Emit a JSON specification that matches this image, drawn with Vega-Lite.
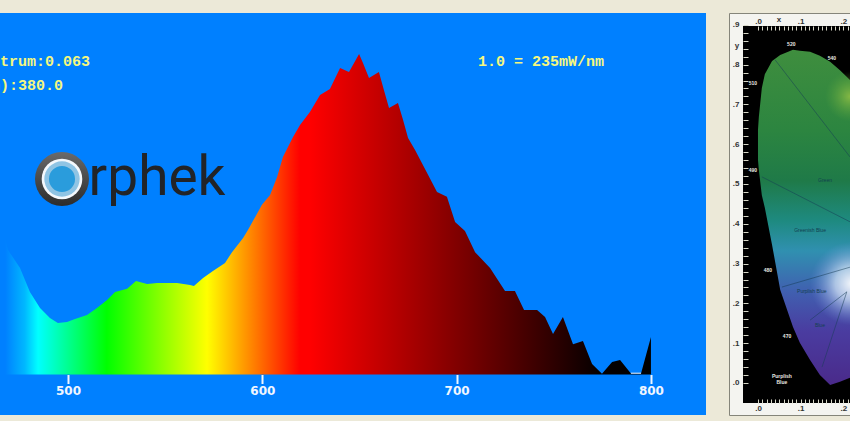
{
"$schema":"https://vega.github.io/schema/vega-lite/v6.json",
"background":"#ECE9D8",
"padding":{"left":0,"top":12,"right":0,"bottom":6},
"spacing":22,
"config":{"axis":{"title":null,"grid":false}},
"hconcat":[
{"width":706,"height":402,"view":{"fill":"#0080FF","stroke":null},
"encoding":{
"x":{"field":"nm","type":"quantitative","scale":{"domain":[465,828.33],"nice":false,"zero":false},
"axis":{"values":[500,600,700,800],"orient":"bottom","offset":-40.5,"domain":false,"tickColor":"#F0F6FF","tickWidth":2,"tickSize":9,"labelColor":"#F0F6FF","labelFont":"DejaVu Sans","labelFontWeight":"bold","labelFontSize":12,"labelPadding":2,"title":null,"format":"d"}},
"y":{"field":"v","type":"quantitative","scale":{"domain":[-0.1268,1.1315],"nice":false,"zero":false},"axis":null}
},
"layer":[
{"data":{"values":[
{"nm":465.0,"v":0.531},{"nm":466.5,"v":0.452},{"nm":469.1,"v":0.390},{"nm":475.3,"v":0.333},{"nm":480.4,"v":0.258},{"nm":485.6,"v":0.208},{"nm":490.7,"v":0.177},{"nm":494.8,"v":0.161},{"nm":499.5,"v":0.164},{"nm":503.6,"v":0.174},{"nm":509.8,"v":0.186},{"nm":514.9,"v":0.208},{"nm":520.1,"v":0.233},{"nm":524.2,"v":0.258},{"nm":530.4,"v":0.268},{"nm":535.0,"v":0.293},{"nm":540.7,"v":0.283},{"nm":545.8,"v":0.286},{"nm":556.1,"v":0.286},{"nm":562.8,"v":0.280},{"nm":564.8,"v":0.277},{"nm":569.5,"v":0.302},{"nm":574.6,"v":0.324},{"nm":580.8,"v":0.349},{"nm":584.4,"v":0.383},{"nm":590.1,"v":0.427},{"nm":592.6,"v":0.452},{"nm":599.8,"v":0.531},{"nm":604.0,"v":0.562},{"nm":607.6,"v":0.618},{"nm":610.6,"v":0.681},{"nm":615.8,"v":0.743},{"nm":619.4,"v":0.781},{"nm":624.5,"v":0.822},{"nm":629.7,"v":0.875},{"nm":634.8,"v":0.894},{"nm":640.0,"v":0.959},{"nm":644.6,"v":0.947},{"nm":649.8,"v":1.003},{"nm":651.8,"v":0.975},{"nm":654.9,"v":0.928},{"nm":660.0,"v":0.947},{"nm":662.6,"v":0.890},{"nm":665.2,"v":0.834},{"nm":669.8,"v":0.850},{"nm":672.4,"v":0.797},{"nm":675.0,"v":0.740},{"nm":678.6,"v":0.703},{"nm":684.8,"v":0.631},{"nm":689.9,"v":0.571},{"nm":695.0,"v":0.556},{"nm":699.2,"v":0.477},{"nm":704.3,"v":0.449},{"nm":709.5,"v":0.383},{"nm":717.2,"v":0.333},{"nm":724.9,"v":0.261},{"nm":730.0,"v":0.261},{"nm":734.7,"v":0.202},{"nm":741.4,"v":0.202},{"nm":745.5,"v":0.180},{"nm":749.6,"v":0.127},{"nm":754.7,"v":0.180},{"nm":759.9,"v":0.095},{"nm":765.0,"v":0.105},{"nm":769.7,"v":0.033},{"nm":774.8,"v":0.002},{"nm":780.0,"v":0.039},{"nm":784.1,"v":0.045},{"nm":789.7,"v":0.003},{"nm":794.9,"v":0.003},{"nm":800.0,"v":0.117}
]},
"mark":{"type":"area","color":{"gradient":"linear","x1":0,"y1":0,"x2":1,"y2":0,"stops":[
{"offset":0,"color":"#0080FF"},{"offset":0.008,"color":"#0080FF"},{"offset":0.038,"color":"#00B8FF"},{"offset":0.0585,"color":"#00FFFF"},{"offset":0.164,"color":"#00FF00"},{"offset":0.318,"color":"#FFFF00"},{"offset":0.461,"color":"#FF0000"},{"offset":0.476,"color":"#FF0000"},{"offset":0.922,"color":"#050000"},{"offset":1,"color":"#000000"}]}},
"encoding":{"y2":{"datum":0}}},
{"data":{"values":[{"nm":789.7,"nm2":794.9,"v":0.004}]},"mark":{"type":"rule","color":"#F0F6FF","strokeWidth":1},"encoding":{"x2":{"field":"nm2"}}},
{"data":{"values":[{"nm":496.9,"v":0.612}]},"mark":{"type":"point","shape":"circle","filled":true,"opacity":1,"size":2916,"color":{"gradient":"linear","x1":0.5,"y1":0,"x2":0.5,"y2":1,"stops":[{"offset":0,"color":"#6a6a6a"},{"offset":0.5,"color":"#4a4a4a"},{"offset":1,"color":"#2c2c2c"}]}}},
{"data":{"values":[{"nm":496.9,"v":0.612}]},"mark":{"type":"point","shape":"circle","filled":true,"opacity":1,"size":1650,"color":"#F4F8FC"}},
{"data":{"values":[{"nm":496.9,"v":0.612}]},"mark":{"type":"point","shape":"circle","filled":true,"opacity":1,"size":1250,"color":"#8FC4E4"}},
{"data":{"values":[{"nm":496.9,"v":0.612}]},"mark":{"type":"point","shape":"circle","filled":true,"opacity":1,"size":680,"color":"#2A9CDC"}},
{"data":{"values":[{"nm":510.6,"v":0.562,"t":"rphek"}]},"mark":{"type":"text","align":"left","baseline":"alphabetic","font":"Roboto","fontWeight":400,"fontSize":55,"color":"#222428"},"encoding":{"text":{"field":"t"}}},
{"data":{"values":[{"nm":511.3,"v":0.982,"t":"Spectrum:0.063"},{"nm":497.4,"v":0.907,"t":"(nm):380.0"}]},"mark":{"type":"text","clip":true,"align":"right","baseline":"middle","font":"Liberation Mono","fontWeight":"bold","fontSize":15,"color":"#F4F780"},"encoding":{"text":{"field":"t"}}},
{"data":{"values":[{"nm":711,"v":0.982,"t":"1.0 = 235mW/nm"}]},"mark":{"type":"text","align":"left","baseline":"middle","font":"Liberation Mono","fontWeight":"bold","fontSize":15,"color":"#F4F780"},"encoding":{"text":{"field":"t"}}}
]},
{"width":121,"height":402,"view":{"fill":"#F4F4F0","stroke":"#85857A"},
"encoding":{
"x":{"field":"cx","type":"quantitative","scale":{"domain":[-0.0679,0.2155],"nice":false,"zero":false},"title":null,"axis":null},
"y":{"field":"cy","type":"quantitative","scale":{"domain":[-0.0804,0.9296],"nice":false,"zero":false},"title":null,
"axis":{"orient":"left","offset":-14,"zindex":1,"values":[0,0.02,0.04,0.06,0.08,0.1,0.12,0.14,0.16,0.18,0.2,0.22,0.24,0.26,0.28,0.3,0.32,0.34,0.36,0.38,0.4,0.42,0.44,0.46,0.48,0.5,0.52,0.54,0.56,0.58,0.6,0.62,0.64,0.66,0.68,0.7,0.72,0.74,0.76,0.78,0.8,0.82,0.84,0.86,0.88,0.9],"labelExpr":"round(datum.value*100)%10==0?'.'+round(datum.value*10):''","domain":false,"tickColor":"#D8D8C8","tickSize":-5,"labelPadding":9,"labelColor":"#333333","labelFontSize":8,"labelFontWeight":"bold","labelFlush":false,"labelOverlap":false,"title":null}}
},
"layer":[
{"data":{"values":[{"cx":-0.0351,"cx2":0.2155,"cy":-0.0503,"cy2":0.897}]},"mark":{"type":"rect","color":"#000000"},"encoding":{"x":{"field":"cx","type":"quantitative","axis":{"orient":"bottom","offset":-12,"zindex":1,"values":[0,0.01,0.02,0.03,0.04,0.05,0.06,0.07,0.08,0.09,0.1,0.11,0.12,0.13,0.14,0.15,0.16,0.17,0.18,0.19,0.2,0.21],"labelExpr":"round(datum.value*100)%10==0?'.'+round(datum.value*10):''","domain":false,"tickColor":"#D8D8C8","tickSize":-4,"labelPadding":5,"labelColor":"#333333","labelFontSize":8,"labelFontWeight":"bold","labelFlush":false,"labelOverlap":false,"title":null}},"x2":{"field":"cx2"},"y2":{"field":"cy2"}}},
{"data":{"values":[{"cy":0},{"cy":0.1},{"cy":0.2},{"cy":0.3},{"cy":0.4},{"cy":0.5},{"cy":0.6},{"cy":0.7},{"cy":0.8}]},"mark":{"type":"rule","color":"#C9C9B0","strokeWidth":1},"encoding":{"x":{"datum":-0.0351,"axis":null},"x2":{"datum":0.2155}}},
{"data":{"values":[{"cx":0},{"cx":0.1},{"cx":0.2}]},"mark":{"type":"rule","color":"#C9C9B0","strokeWidth":1},"encoding":{"x":{"field":"cx","type":"quantitative","axis":{"orient":"top","offset":-13,"zindex":1,"values":[0,0.01,0.02,0.03,0.04,0.05,0.06,0.07,0.08,0.09,0.1,0.11,0.12,0.13,0.14,0.15,0.16,0.17,0.18,0.19,0.2,0.21],"labelExpr":"round(datum.value*100)%10==0?'.'+round(datum.value*10):''","domain":false,"tickColor":"#D8D8C8","tickSize":-4,"labelPadding":5,"labelColor":"#333333","labelFontSize":8,"labelFontWeight":"bold","labelFlush":false,"labelOverlap":false,"title":null}},"y":{"datum":-0.0503},"y2":{"datum":0.897}}},
{"data":{"values":[
{"cx":0,"cy":0.636,"cy2":0.560},{"cx":0.002,"cy":0.668,"cy2":0.535},{"cx":0.009,"cy":0.741,"cy2":0.472},{"cx":0.016,"cy":0.776,"cy2":0.440},{"cx":0.033,"cy":0.809,"cy2":0.347},{"cx":0.052,"cy":0.824,"cy2":0.234},{"cx":0.082,"cy":0.837,"cy2":0.141},{"cx":0.098,"cy":0.835,"cy2":0.101},{"cx":0.122,"cy":0.832,"cy2":0.058},{"cx":0.145,"cy":0.822,"cy2":0.020},{"cx":0.169,"cy":0.807,"cy2":-0.005},{"cx":0.192,"cy":0.786,"cy2":0.003},{"cx":0.2155,"cy":0.761,"cy2":0.013}
]},"mark":{"type":"area","color":{"gradient":"linear","x1":0,"y1":0,"x2":0,"y2":1,"stops":[{"offset":0,"color":"#3F8E3E"},{"offset":0.24,"color":"#2C8540"},{"offset":0.39,"color":"#1F7A48"},{"offset":0.51,"color":"#1E8A80"},{"offset":0.6,"color":"#3090B0"},{"offset":0.72,"color":"#4060B0"},{"offset":0.84,"color":"#4A3CA0"},{"offset":1,"color":"#4A2A8A"}]}},"encoding":{"y2":{"field":"cy2"}}},
{"data":{"values":[{"cx":0.22,"cy":0.25}]},"mark":{"type":"point","shape":"circle","filled":true,"clip":true,"opacity":1,"size":7000,"color":{"gradient":"radial","x1":0.5,"y1":0.5,"x2":0.5,"y2":0.5,"r1":0,"r2":0.5,"stops":[{"offset":0,"color":"rgba(255,255,255,0.95)"},{"offset":0.4,"color":"rgba(220,235,250,0.7)"},{"offset":1,"color":"rgba(120,150,220,0)"}]}}},
{"data":{"values":[{"cx":0.2155,"cy":0.72}]},"mark":{"type":"point","shape":"circle","filled":true,"clip":true,"opacity":1,"size":2500,"color":{"gradient":"radial","x1":0.5,"y1":0.5,"x2":0.5,"y2":0.5,"r1":0,"r2":0.5,"stops":[{"offset":0,"color":"rgba(160,200,70,0.75)"},{"offset":1,"color":"rgba(100,170,60,0)"}]}}},
{"data":{"values":[
{"k":"a","cx":0.040,"cy":0.812},{"k":"a","cx":0.2155,"cy":0.568},
{"k":"b","cx":0.009,"cy":0.518},{"k":"b","cx":0.2155,"cy":0.405},
{"k":"c","cx":0.056,"cy":0.241},{"k":"c","cx":0.2155,"cy":0.291},
{"k":"d","cx":0.122,"cy":0.158},{"k":"d","cx":0.208,"cy":0.229},
{"k":"e","cx":0.150,"cy":0.040},{"k":"e","cx":0.208,"cy":0.229}
]},"mark":{"type":"line","color":"#153C55","opacity":0.5,"strokeWidth":1},"encoding":{"detail":{"field":"k"}}},
{"data":{"values":[
{"cx":-0.012,"cy":0.754,"t":"510"},{"cx":-0.012,"cy":0.535,"t":"490"},{"cx":0.078,"cy":0.852,"t":"520"},{"cx":0.173,"cy":0.816,"t":"540"},{"cx":0.023,"cy":0.284,"t":"480"},{"cx":0.068,"cy":0.118,"t":"470"},{"cx":0.056,"cy":0.018,"t":"Purplish"},{"cx":0.056,"cy":0.003,"t":"Blue"}
]},"mark":{"type":"text","color":"#E8E8E0","fontSize":5,"fontWeight":"bold"},"encoding":{"text":{"field":"t"}}},
{"data":{"values":[
{"cx":0.157,"cy":0.51,"t":"Green"},{"cx":0.122,"cy":0.385,"t":"Greenish Blue"},{"cx":0.126,"cy":0.23,"t":"Purplish Blue"},{"cx":0.145,"cy":0.145,"t":"Blue"}
]},"mark":{"type":"text","color":"#12404F","fontSize":5},"encoding":{"text":{"field":"t"}}},
{"data":{"values":[{"cx":-0.049,"cy":0.846,"t":"y"},{"cx":0.049,"cy":0.912,"t":"x"}]},"mark":{"type":"text","color":"#333333","fontSize":8,"fontWeight":"bold"},"encoding":{"text":{"field":"t"}}}
]}
]}
